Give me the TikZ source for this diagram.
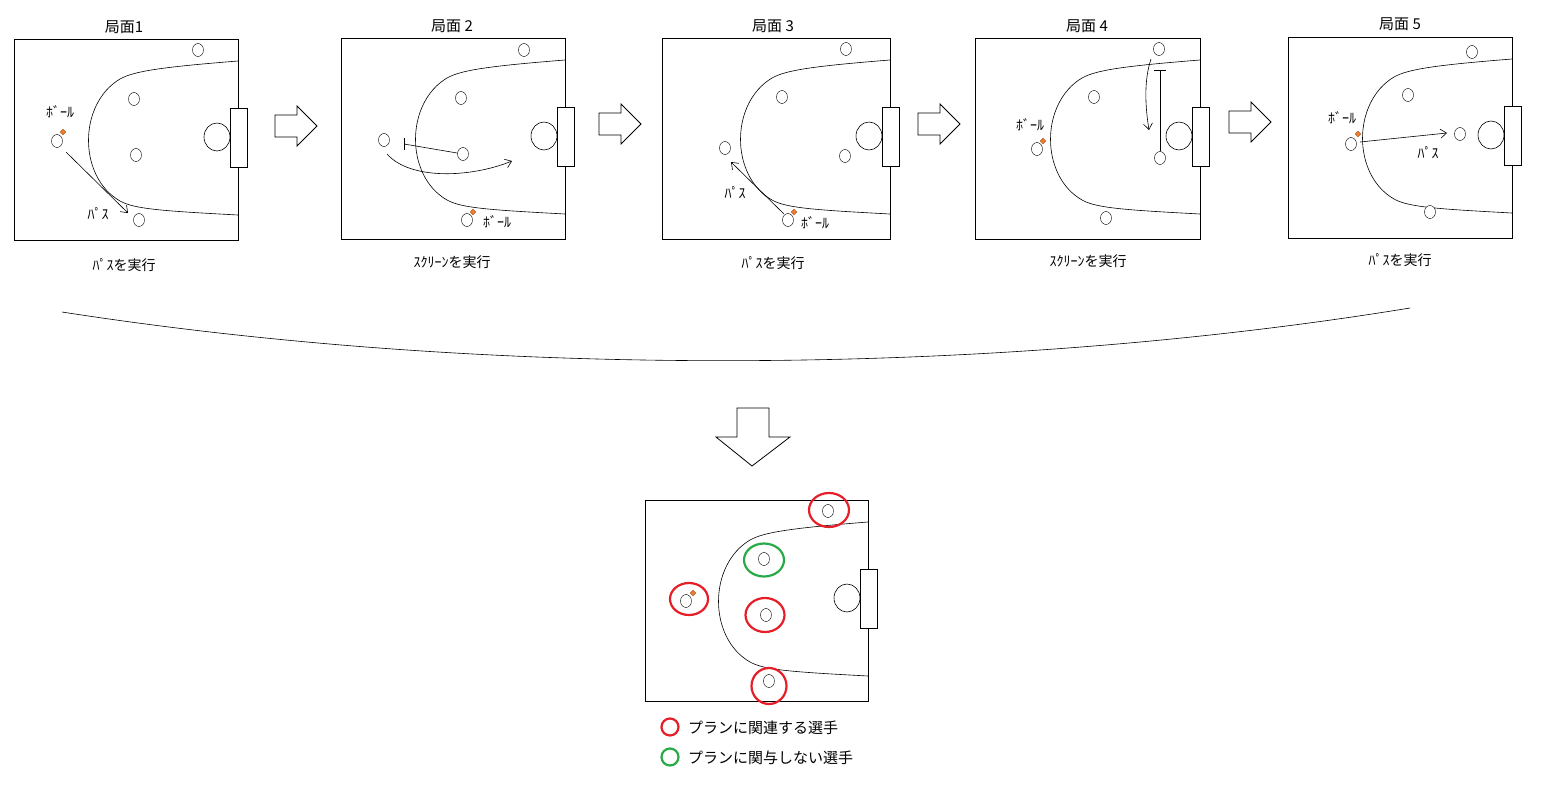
\documentclass[tikz,border=0pt]{standalone}
\usepackage{fontspec}
\setmainfont{Noto Sans CJK JP}
\usetikzlibrary{arrows.meta,shapes.geometric}
\definecolor{ballc}{RGB}{237,125,49}
\definecolor{redc}{RGB}{230,30,40}
\definecolor{greenc}{RGB}{40,170,70}
\tikzset{
 pl/.style={ellipse,draw,inner sep=0pt,minimum width=11pt,minimum height=13pt,fill=white},
 ball/.style={diamond,draw=ballc!70!black,fill=ballc,inner sep=0pt,minimum size=6pt,line width=0.3pt},
 lbl/.style={font=\fontsize{14}{14}\selectfont,inner sep=0pt},
 ttl/.style={font=\fontsize{15}{15}\selectfont,inner sep=0pt},
 mv/.style={-{Straight Barb[length=6pt,width=9pt]},line width=0.6pt},
 hollow/.style={draw,line width=0.8pt,fill=white},
 ring/.style={ellipse,draw,line width=2.2pt,inner sep=0pt}
}
\newcommand\mycourt[4]{% x y w name
 \begin{scope}[shift={(#1,#2)}]
  \draw[line width=0.6pt] (0,0) rectangle (#3,201);
  \draw[line width=0.6pt] (#3,22) .. controls (#3-75,28) and (#3-104,32) .. (#3-118,40)
     .. controls (#3-160,65) and (#3-160,138) .. (#3-118,162)
     .. controls (#3-104,170) and (#3-75,172) .. (#3,176);
  \draw[line width=0.6pt] (#3-21,98) ellipse (13 and 14);
  \draw[line width=0.6pt,fill=white] (#3-8,69) rectangle (#3+9,128);
 \end{scope}}
\newcommand\harrow[2]{%
 \draw[hollow] (#1,#2-11) -- (#1+22,#2-11) -- (#1+22,#2-20) -- (#1+42,#2) -- (#1+22,#2+20) -- (#1+22,#2+11) -- (#1,#2+11) -- cycle;}
\begin{document}
\begin{tikzpicture}[x=1pt,y=-1pt]
\useasboundingbox (0,0) rectangle (1551,793);
% panel 1
\mycourt{14}{39}{224}{c1}
\node[ttl] (t1) at (124,27) {局面1};
\node[pl] (a1) at (198,50) {}; \node[pl] (a2) at (134,99) {}; \node[pl] (a3) at (57,141) {};
\node[pl] (a4) at (136,155) {}; \node[pl] (a5) at (139,220) {};
\node[ball] (b1) at (63,132) {};
\node[lbl] (l1) at (60,112) {ﾎﾞｰﾙ};
\coordinate (p1s) at (66,152); \coordinate (p1e) at (128,213);
\draw[mv] (p1s) -- (p1e);
\node[lbl] (l2) at (98,214) {ﾊﾟｽ};
\node[lbl] (cap1) at (124,265) {ﾊﾟｽを実行};
\harrow{275}{126}
% panel 2
\mycourt{341}{38}{224}{c2}
\node[ttl] (t2) at (452,26) {局面 2};
\node[pl] (d1) at (524,50) {}; \node[pl] (d2) at (461,98) {}; \node[pl] (d3) at (384,140) {};
\node[pl] (d4) at (463,154) {}; \node[pl] (d5) at (467,220) {};
\node[ball] (b2) at (473,212) {};
\node[lbl] (l3) at (497,222) {ﾎﾞｰﾙ};
\coordinate (s2) at (404,144);
\draw[line width=0.6pt] (d4) -- (s2);
\draw[line width=0.6pt] (404,138) -- (404,150);
\coordinate (m2s) at (387,154); \coordinate (m2e) at (512,161);
\draw[mv] (m2s) .. controls (410,180) and (470,178) .. (m2e);
\node[lbl] (cap2) at (452,262) {ｽｸﾘｰﾝを実行};
\harrow{599}{124}
% panel 3
\mycourt{662}{38}{228}{c3}
\node[ttl] (t3) at (773,26) {局面 3};
\node[pl] (e1) at (846,49) {}; \node[pl] (e2) at (782,97) {}; \node[pl] (e3) at (725,148) {};
\node[pl] (e4) at (845,156) {}; \node[pl] (e5) at (788,220) {};
\node[ball] (b3) at (794,212) {};
\node[lbl] (l4) at (815,223) {ﾎﾞｰﾙ};
\coordinate (p3s) at (784,214); \coordinate (p3e) at (731,162);
\draw[mv] (p3s) -- (p3e);
\node[lbl] (l5) at (735,193) {ﾊﾟｽ};
\node[lbl] (cap3) at (773,263) {ﾊﾟｽを実行};
\harrow{918}{124}
% panel 4
\mycourt{975}{38}{225}{c4}
\node[ttl] (t4) at (1087,26) {局面 4};
\node[pl] (f1) at (1159,49) {}; \node[pl] (f2) at (1094,97) {}; \node[pl] (f3) at (1037,149) {};
\node[pl] (f4) at (1160,158) {}; \node[pl] (f5) at (1106,218) {};
\node[ball] (b4) at (1043,141) {};
\node[lbl] (l6) at (1030,125) {ﾎﾞｰﾙ};
\coordinate (s4) at (1160,70);
\draw[line width=0.6pt] (f4) -- (s4);
\draw[line width=0.6pt] (1154,70) -- (1166,70);
\coordinate (m4s) at (1151,59); \coordinate (m4e) at (1149,130);
\draw[mv] (m4s) .. controls (1144,80) and (1145,105) .. (m4e);
\node[lbl] (cap4) at (1088,261) {ｽｸﾘｰﾝを実行};
\harrow{1229}{122}
% panel 5
\mycourt{1288}{37}{224}{c5}
\node[ttl] (t5) at (1400,24) {局面 5};
\node[pl] (g1) at (1472,52) {}; \node[pl] (g2) at (1408,95) {}; \node[pl] (g3) at (1351,144) {};
\node[pl] (g4) at (1460,134) {}; \node[pl] (g5) at (1430,212) {};
\node[ball] (b5) at (1358,134) {};
\node[lbl] (l7) at (1342,118) {ﾎﾞｰﾙ};
\coordinate (p5s) at (1360,142); \coordinate (p5e) at (1447,133);
\draw[mv] (p5s) -- (p5e);
\node[lbl] (l8) at (1428,153) {ﾊﾟｽ};
\node[lbl] (cap5) at (1400,260) {ﾊﾟｽを実行};
% brace curve
\coordinate (bl) at (62,312); \coordinate (br) at (1410,308);
\draw[line width=0.6pt] (bl) .. controls (500,380) and (1000,375) .. (br);
% down arrow
\draw[hollow] (737,408) -- (769,408) -- (769,437) -- (790,437) -- (752,466) -- (716,437) -- (737,437) -- cycle;
% bottom panel
\mycourt{645}{500}{223}{c6}
\node[pl] (h1) at (828,511) {}; \node[pl] (h2) at (764,559) {}; \node[pl] (h3) at (686,601) {};
\node[pl] (h4) at (766,615) {}; \node[pl] (h5) at (769,681) {};
\node[ball] (b6) at (693,593) {};
\node[ring,draw=redc,minimum width=40pt,minimum height=34pt] (r1) at (829,510) {};
\node[ring,draw=greenc,minimum width=40pt,minimum height=33pt] (r2) at (764,560) {};
\node[ring,draw=redc,minimum width=38pt,minimum height=32pt] (r3) at (689,599) {};
\node[ring,draw=redc,minimum width=39pt,minimum height=34pt] (r4) at (765,615) {};
\node[ring,draw=redc,minimum width=35pt,minimum height=36pt] (r5) at (769,686) {};
% legend
\node[circle,draw=redc,line width=2.2pt,minimum size=17pt,inner sep=0pt] (k1) at (670,727) {};
\node[anchor=west,font=\fontsize{15}{15}\selectfont,inner sep=0pt] (k1t) at (688,728) {プランに関連する選手};
\node[circle,draw=greenc,line width=2.2pt,minimum size=17pt,inner sep=0pt] (k2) at (670,757) {};
\node[anchor=west,font=\fontsize{15}{15}\selectfont,inner sep=0pt] (k2t) at (688,758) {プランに関与しない選手};
\end{tikzpicture}
\end{document}
